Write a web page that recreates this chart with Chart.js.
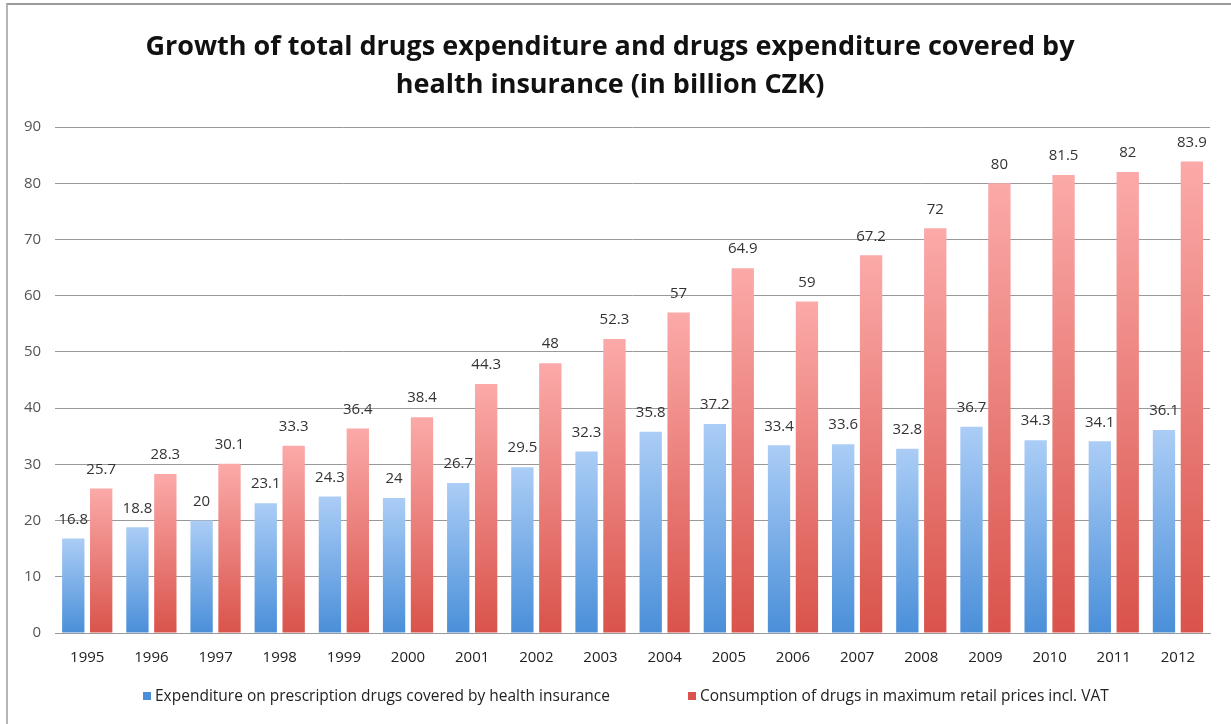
<!doctype html>
<html lang="en">
<head>
	<meta charset="UTF-8">
	<title>Drugs expenditure</title>
	<script src="https://cdn.jsdelivr.net/npm/chart.js@4.4.0/dist/chart.umd.min.js"></script>
	<style>
		html, body { margin: 0; padding: 0; background: #fff; }
		#frame {
			position: absolute; left: 6px; top: 3px; width: 1225px; height: 721px;
			border-left: 2px solid #b5b5b5; border-top: 2px solid #9a9a9a;
			box-sizing: border-box;
		}
		#wrap { position: absolute; left: 0; top: 0; width: 1231px; height: 724px; }
		.legend-item {
			position: absolute; top: 684px; height: 20px; line-height: 20px;
			font: 15.5px "Open Sans", sans-serif; color: #222; white-space: nowrap;
		}
		.legend-item i {
			display: inline-block; width: 8px; height: 8px; margin-right: 4px;
			vertical-align: 1px;
		}
	</style>
</head>
<body>
	<div id="frame"></div>
	<div id="wrap"><canvas id="chart"></canvas></div>
	<div id="legend"></div>
	<script>
		const years = ['1995', '1996', '1997', '1998', '1999', '2000', '2001', '2002', '2003',
			'2004', '2005', '2006', '2007', '2008', '2009', '2010', '2011', '2012'];
		const insurance = [16.8, 18.8, 20, 23.1, 24.3, 24, 26.7, 29.5, 32.3,
			35.8, 37.2, 33.4, 33.6, 32.8, 36.7, 34.3, 34.1, 36.1];
		const retail = [25.7, 28.3, 30.1, 33.3, 36.4, 38.4, 44.3, 48, 52.3,
			57, 64.9, 59, 67.2, 72, 80, 81.5, 82, 83.9];

		const font = '"Open Sans", sans-serif';

		// gradient per bar, light on top, darker at the base
		function barGradient(top, bottom) {
			return (ctx) => {
				const chart = ctx.chart;
				const y = chart.scales.y;
				if (!chart.chartArea || !y || ctx.raw === undefined) return bottom;
				const y0 = y.getPixelForValue(0);
				const y1 = y.getPixelForValue(ctx.raw);
				const g = chart.ctx.createLinearGradient(0, y1, 0, y0);
				g.addColorStop(0, top);
				g.addColorStop(1, bottom);
				return g;
			};
		}

		const valueLabels = {
			id: 'valueLabels',
			afterDatasetsDraw(chart) {
				const c = chart.ctx;
				c.save();
				c.font = '15px ' + font;
				c.fillStyle = '#333';
				c.textAlign = 'center';
				c.textBaseline = 'middle';
				chart.data.datasets.forEach((ds, i) => {
					chart.getDatasetMeta(i).data.forEach((bar, j) => {
						c.fillText(String(ds.data[j]), bar.x, bar.y - 19);
					});
				});
				c.restore();
			}
		};

		const chart = new Chart(document.getElementById('chart'), {
			type: 'bar',
			data: {
				labels: years,
				datasets: [
					{
						label: 'Expenditure on prescription drugs covered by health insurance',
						data: insurance,
						backgroundColor: barGradient('#abcdf6', '#4a8fd9'),
						legendColor: '#4a8fd9',
					},
					{
						label: 'Consumption of drugs in maximum retail prices incl. VAT',
						data: retail,
						backgroundColor: barGradient('#fbaaa9', '#d9534b'),
						legendColor: '#d9534b',
					},
				],
			},
			plugins: [valueLabels],
			options: {
				responsive: true,
				maintainAspectRatio: false,
				animation: false,
				categoryPercentage: 0.87,
				barPercentage: 0.8,
				layout: { padding: { left: 10, right: 21, top: 0, bottom: 41 } },
				plugins: {
					title: {
						display: true,
						text: ['Growth of total drugs expenditure and drugs expenditure covered by',
							'health insurance (in billion CZK)'],
						color: '#111',
						font: { family: font, size: 27, weight: 'bold', lineHeight: 1.41 },
						padding: { top: 28, bottom: 23 },
					},
					legend: { display: false },
					tooltip: { enabled: false },
				},
				scales: {
					x: {
						grid: { display: false, drawTicks: false },
						border: { color: '#999' },
						ticks: { color: '#222', font: { family: font, size: 15 }, padding: 16, maxRotation: 0 },
					},
					y: {
						min: 0,
						max: 90,
						grid: { color: '#999', drawTicks: false },
						border: { display: false },
						ticks: { stepSize: 10, color: '#555', font: { family: font, size: 15 }, padding: 14 },
					},
				},
			},
		});

		// legend as text below the chart
		const legendLeft = [143, 688];
		chart.data.datasets.forEach((ds, i) => {
			const item = document.createElement('div');
			item.className = 'legend-item';
			item.style.left = legendLeft[i] + 'px';
			item.innerHTML = '<i style="background:' + ds.legendColor + '"></i>' + ds.label;
			document.getElementById('legend').appendChild(item);
		});
	</script>
</body>
</html>
